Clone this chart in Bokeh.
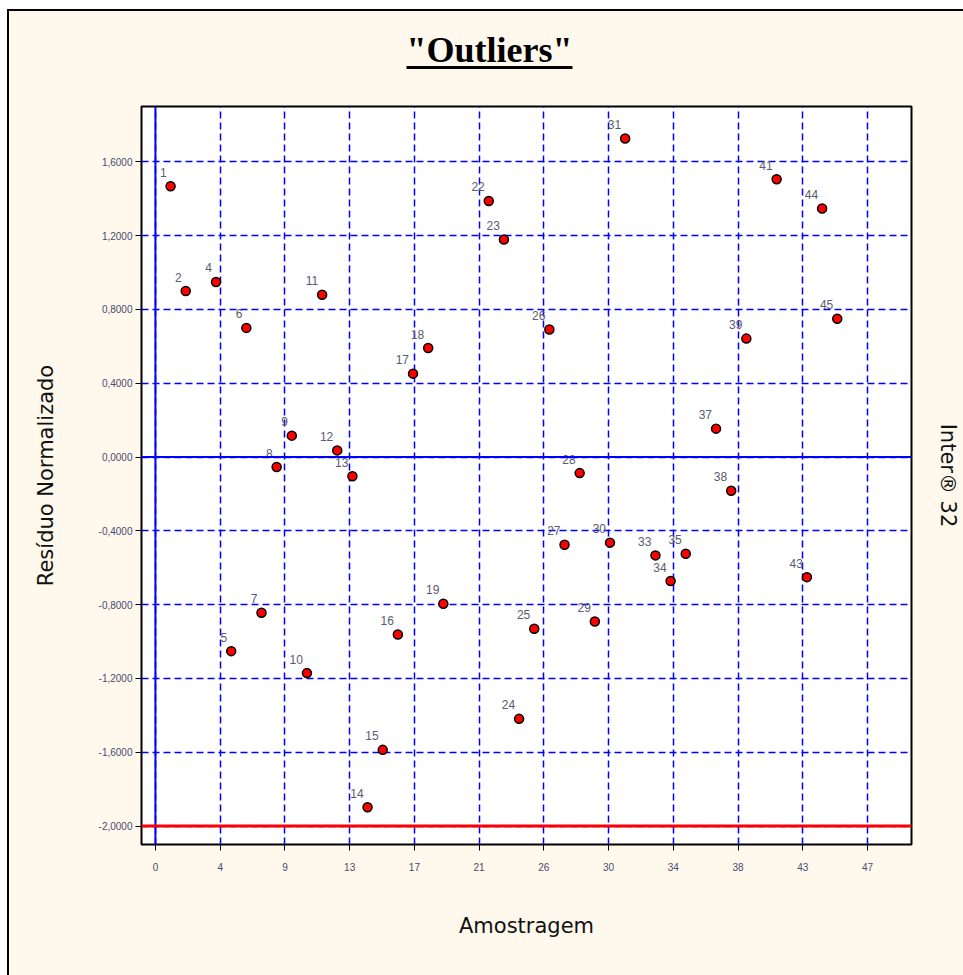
from bokeh.plotting import figure
from bokeh.models import (Range1d, FixedTicker, LinearAxis, Span, ColumnDataSource,
                          Spacer, Div)
from bokeh.layouts import column, row
from bokeh.core.properties import value
from bokeh.embed import file_html
from bokeh.resources import INLINE

# ---------------- data ----------------
sample = [1, 2, 4, 5, 6, 7, 8, 9, 10, 11, 12, 13, 14, 15, 16, 17, 18, 19,
          22, 23, 24, 25, 26, 27, 28, 29, 30, 31, 33, 34, 35, 37, 38, 39,
          41, 43, 44, 45]
residual = [1.468, 0.900, 0.949, -1.052, 0.700, -0.844, -0.054, 0.116,
            -1.171, 0.880, 0.036, -0.104, -1.898, -1.587, -0.962, 0.452,
            0.591, -0.795, 1.388, 1.179, -1.419, -0.931, 0.691, -0.475,
            -0.087, -0.891, -0.464, 1.727, -0.533, -0.672, -0.524, 0.154,
            -0.183, 0.642, 1.506, -0.651, 1.347, 0.750]
point_labels = [str(s) for s in sample]

x_tick_labels = ["0", "4", "9", "13", "17", "21", "26", "30", "34", "38", "43", "47"]
x_tick_max = 47
y_ticks = [-2.0, -1.6, -1.2, -0.8, -0.4, 0.0, 0.4, 0.8, 1.2, 1.6]
y_tick_labels = ["-2,0000", "-1,6000", "-1,2000", "-0,8000", "-0,4000",
                 "0,0000", "0,4000", "0,8000", "1,2000", "1,6000"]
limit_line = -2.0

title_text = '"Outliers"'
x_label = "Amostragem"
y_label = "Resíduo Normalizado"
right_label = "Inter® 32"

# ---------------- styling ----------------
cream = "#FFF8EC"
tick_color = "#4a4a70"
W_IN = 954          # inner width (inside the outer black border)
TITLE_H = 90
MAIN_H = 874

# ---------------- title strip (HTML, underlined) ----------------
title_html = (
    '<div style="width:961px; margin:0; padding:21px 0 0 0; text-align:center; '
    'font-family:\'Liberation Serif\', serif; font-weight:bold; font-size:36px; '
    'line-height:36px; color:black; text-decoration:underline; '
    'text-decoration-thickness:3px; text-underline-offset:4px;">'
    + title_text.replace('"', '&quot;') + '</div>'
)
title_div = Div(text=title_html, width=W_IN, height=TITLE_H,
                styles={"background-color": cream, "overflow": "hidden",
                        "margin": "0", "padding": "0"})

# ---------------- main plot ----------------
n = len(x_tick_labels) - 1
x_tick_pos = [k * x_tick_max / n for k in range(n + 1)]

p = figure(width=W_IN, height=MAIN_H, output_backend="svg", toolbar_location=None,
           x_range=Range1d(-0.92, 49.9), y_range=Range1d(-2.1, 1.9),
           min_border_left=132, min_border_right=52, min_border_top=5,
           min_border_bottom=131, border_fill_color=cream,
           background_fill_color="white", outline_line_color="black",
           outline_line_width=2)

# x axis
p.xaxis.ticker = FixedTicker(ticks=x_tick_pos)
p.xaxis.major_label_overrides = dict(zip(x_tick_pos, x_tick_labels))
p.xaxis.minor_tick_line_color = None
p.xaxis.major_tick_out = 6
p.xaxis.major_tick_in = 0
p.xaxis.major_tick_line_color = "black"
p.xaxis.axis_line_color = None
p.xaxis.major_label_standoff = 12
p.xaxis.major_label_text_font = "Liberation Sans"
p.xaxis.major_label_text_font_size = "10px"
p.xaxis.major_label_text_color = tick_color
p.xaxis.axis_label = x_label
p.xaxis.axis_label_text_font = "DejaVu Sans"
p.xaxis.axis_label_text_font_size = "21px"
p.xaxis.axis_label_text_font_style = "normal"
p.xaxis.axis_label_text_color = "#111111"
p.xaxis.axis_label_standoff = 40

# y axis
p.yaxis.ticker = FixedTicker(ticks=y_ticks)
p.yaxis.major_label_overrides = dict(zip(y_ticks, y_tick_labels))
p.yaxis.minor_tick_line_color = None
p.yaxis.major_tick_out = 6
p.yaxis.major_tick_in = 0
p.yaxis.major_tick_line_color = "black"
p.yaxis.axis_line_color = None
p.yaxis.major_label_standoff = 3
p.yaxis.major_label_text_font = "Liberation Sans"
p.yaxis.major_label_text_font_size = "10px"
p.yaxis.major_label_text_color = tick_color
p.yaxis.axis_label = y_label
p.yaxis.axis_label_text_font = "DejaVu Sans"
p.yaxis.axis_label_text_font_size = "21px"
p.yaxis.axis_label_text_font_style = "normal"
p.yaxis.axis_label_text_color = "#111111"
p.yaxis.axis_label_standoff = 38

# right label as an empty axis
ax_r = LinearAxis(ticker=FixedTicker(ticks=[]), axis_label=right_label,
                  axis_line_color=None, major_tick_line_color=None,
                  minor_tick_line_color=None, major_label_standoff=0,
                  major_tick_out=0, major_tick_in=0, minor_tick_out=0,
                  axis_label_text_font="DejaVu Sans",
                  axis_label_text_font_size="21px",
                  axis_label_text_font_style="normal",
                  axis_label_text_color="#111111", axis_label_standoff=24)
p.add_layout(ax_r, "right")

# grids
p.xgrid.ticker = FixedTicker(ticks=x_tick_pos)
p.ygrid.ticker = FixedTicker(ticks=y_ticks)
for g in (p.xgrid, p.ygrid):
    g.grid_line_color = "#0000FF"
    g.grid_line_dash = "7 4"
    g.grid_line_width = 1.5
    g.grid_line_alpha = 1.0

p.add_layout(Span(location=0, dimension="height", line_color="#0000FF", line_width=2))
p.add_layout(Span(location=0, dimension="width", line_color="#0000FF", line_width=2))
p.add_layout(Span(location=limit_line, dimension="width", line_color="#FF0000", line_width=3))

src = ColumnDataSource(dict(x=sample, y=residual, lab=point_labels))
p.scatter("x", "y", source=src, marker="circle", size=9, fill_color="#FF0000",
          line_color="black", line_width=1.5)
p.text("x", "y", text="lab", source=src, text_align="right",
       text_baseline="alphabetic", x_offset=-4, y_offset=-14,
       text_font_size="12px", text_color="#5a5a6e",
       text_font=value("Liberation Sans"))

# ---------------- page frame: white margin + black outer border ----------------
top_white = Spacer(width=963, height=9)
left_white = Spacer(width=7, height=966)
left_black = Spacer(width=2, height=966, styles={"background-color": "black"})
top_black = Spacer(width=W_IN, height=2, styles={"background-color": "black"})

inner = column(top_black, title_div, p, spacing=0,
               styles={"background-color": cream})
page = column(top_white, row(left_white, left_black, inner, spacing=0), spacing=0)

open("out.html", "w").write(file_html(page, INLINE))
